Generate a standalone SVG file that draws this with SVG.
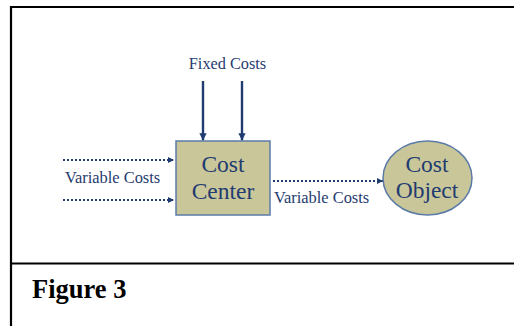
<svg xmlns="http://www.w3.org/2000/svg" width="514" height="326" viewBox="0 0 514 326">
  <style>
    .frame { fill: none; stroke: #000; stroke-width: 2.2; }
    .node { fill: #C9C79A; stroke: #5B7BA6; stroke-width: 1.5; }
    .lbl { font-family: "Liberation Serif", "Times New Roman", serif; fill: #1F3B70; }
    .big { font-size: 23.5px; text-anchor: middle; }
    .small { font-size: 16.4px; }
    .solid { stroke: #1F3B70; stroke-width: 2.4; fill: none; }
    .dotted { stroke: #1F3B70; stroke-width: 2; stroke-dasharray: 2 2; fill: none; }
    .caption { font-family: "Liberation Serif", "Times New Roman", serif; font-weight: bold; font-size: 26.5px; fill: #000; }
  </style>
  <defs>
    <marker id="headSolid" viewBox="0 0 10 10" refX="10" refY="5" markerWidth="3.2" markerHeight="3" orient="auto" markerUnits="strokeWidth">
      <path d="M0,0 L10,5 L0,10 z" fill="#1F3B70"/>
    </marker>
    <marker id="headDot" viewBox="0 0 10 10" refX="10" refY="5" markerWidth="3" markerHeight="3" orient="auto" markerUnits="strokeWidth">
      <path d="M0,0 L10,5 L0,10 z" fill="#1F3B70"/>
    </marker>
  </defs>

  <rect width="514" height="326" fill="#fff"/>

  <!-- frame: top edge, left edge, caption divider -->
  <g id="frame">
    <path class="frame" d="M11,326 L11,7 L514,7"/>
    <path class="frame" d="M11,263.5 L514,263.5"/>
  </g>

  <g id="connectors">
    <line class="solid" x1="203" y1="81" x2="203" y2="140.5" marker-end="url(#headSolid)"/>
    <line class="solid" x1="242" y1="81" x2="242" y2="140.5" marker-end="url(#headSolid)"/>
    <line class="dotted" x1="63" y1="160" x2="174" y2="160" marker-end="url(#headDot)"/>
    <line class="dotted" x1="63" y1="200" x2="174" y2="200" marker-end="url(#headDot)"/>
    <line class="dotted" x1="273" y1="181" x2="383" y2="181" marker-end="url(#headDot)"/>
  </g>

  <g id="label-fixed">
    <text class="lbl" x="227.5" y="69" font-size="16.3" text-anchor="middle">Fixed Costs</text>
  </g>
  <g id="label-variable-in">
    <text class="lbl small" x="65" y="183">Variable Costs</text>
  </g>
  <g id="label-variable-out">
    <text class="lbl small" x="274" y="203">Variable Costs</text>
  </g>

  <g id="cost-center">
    <rect class="node" x="176" y="141" width="94" height="74"/>
    <text class="lbl big" x="223" y="172">Cost</text>
    <text class="lbl big" x="223" y="198.5">Center</text>
  </g>

  <g id="cost-object">
    <ellipse class="node" cx="427.5" cy="178" rx="44.5" ry="37"/>
    <text class="lbl big" x="427" y="171.5">Cost</text>
    <text class="lbl big" x="427" y="198">Object</text>
  </g>

  <g id="caption">
    <text class="caption" x="32" y="298">Figure 3</text>
  </g>
</svg>
